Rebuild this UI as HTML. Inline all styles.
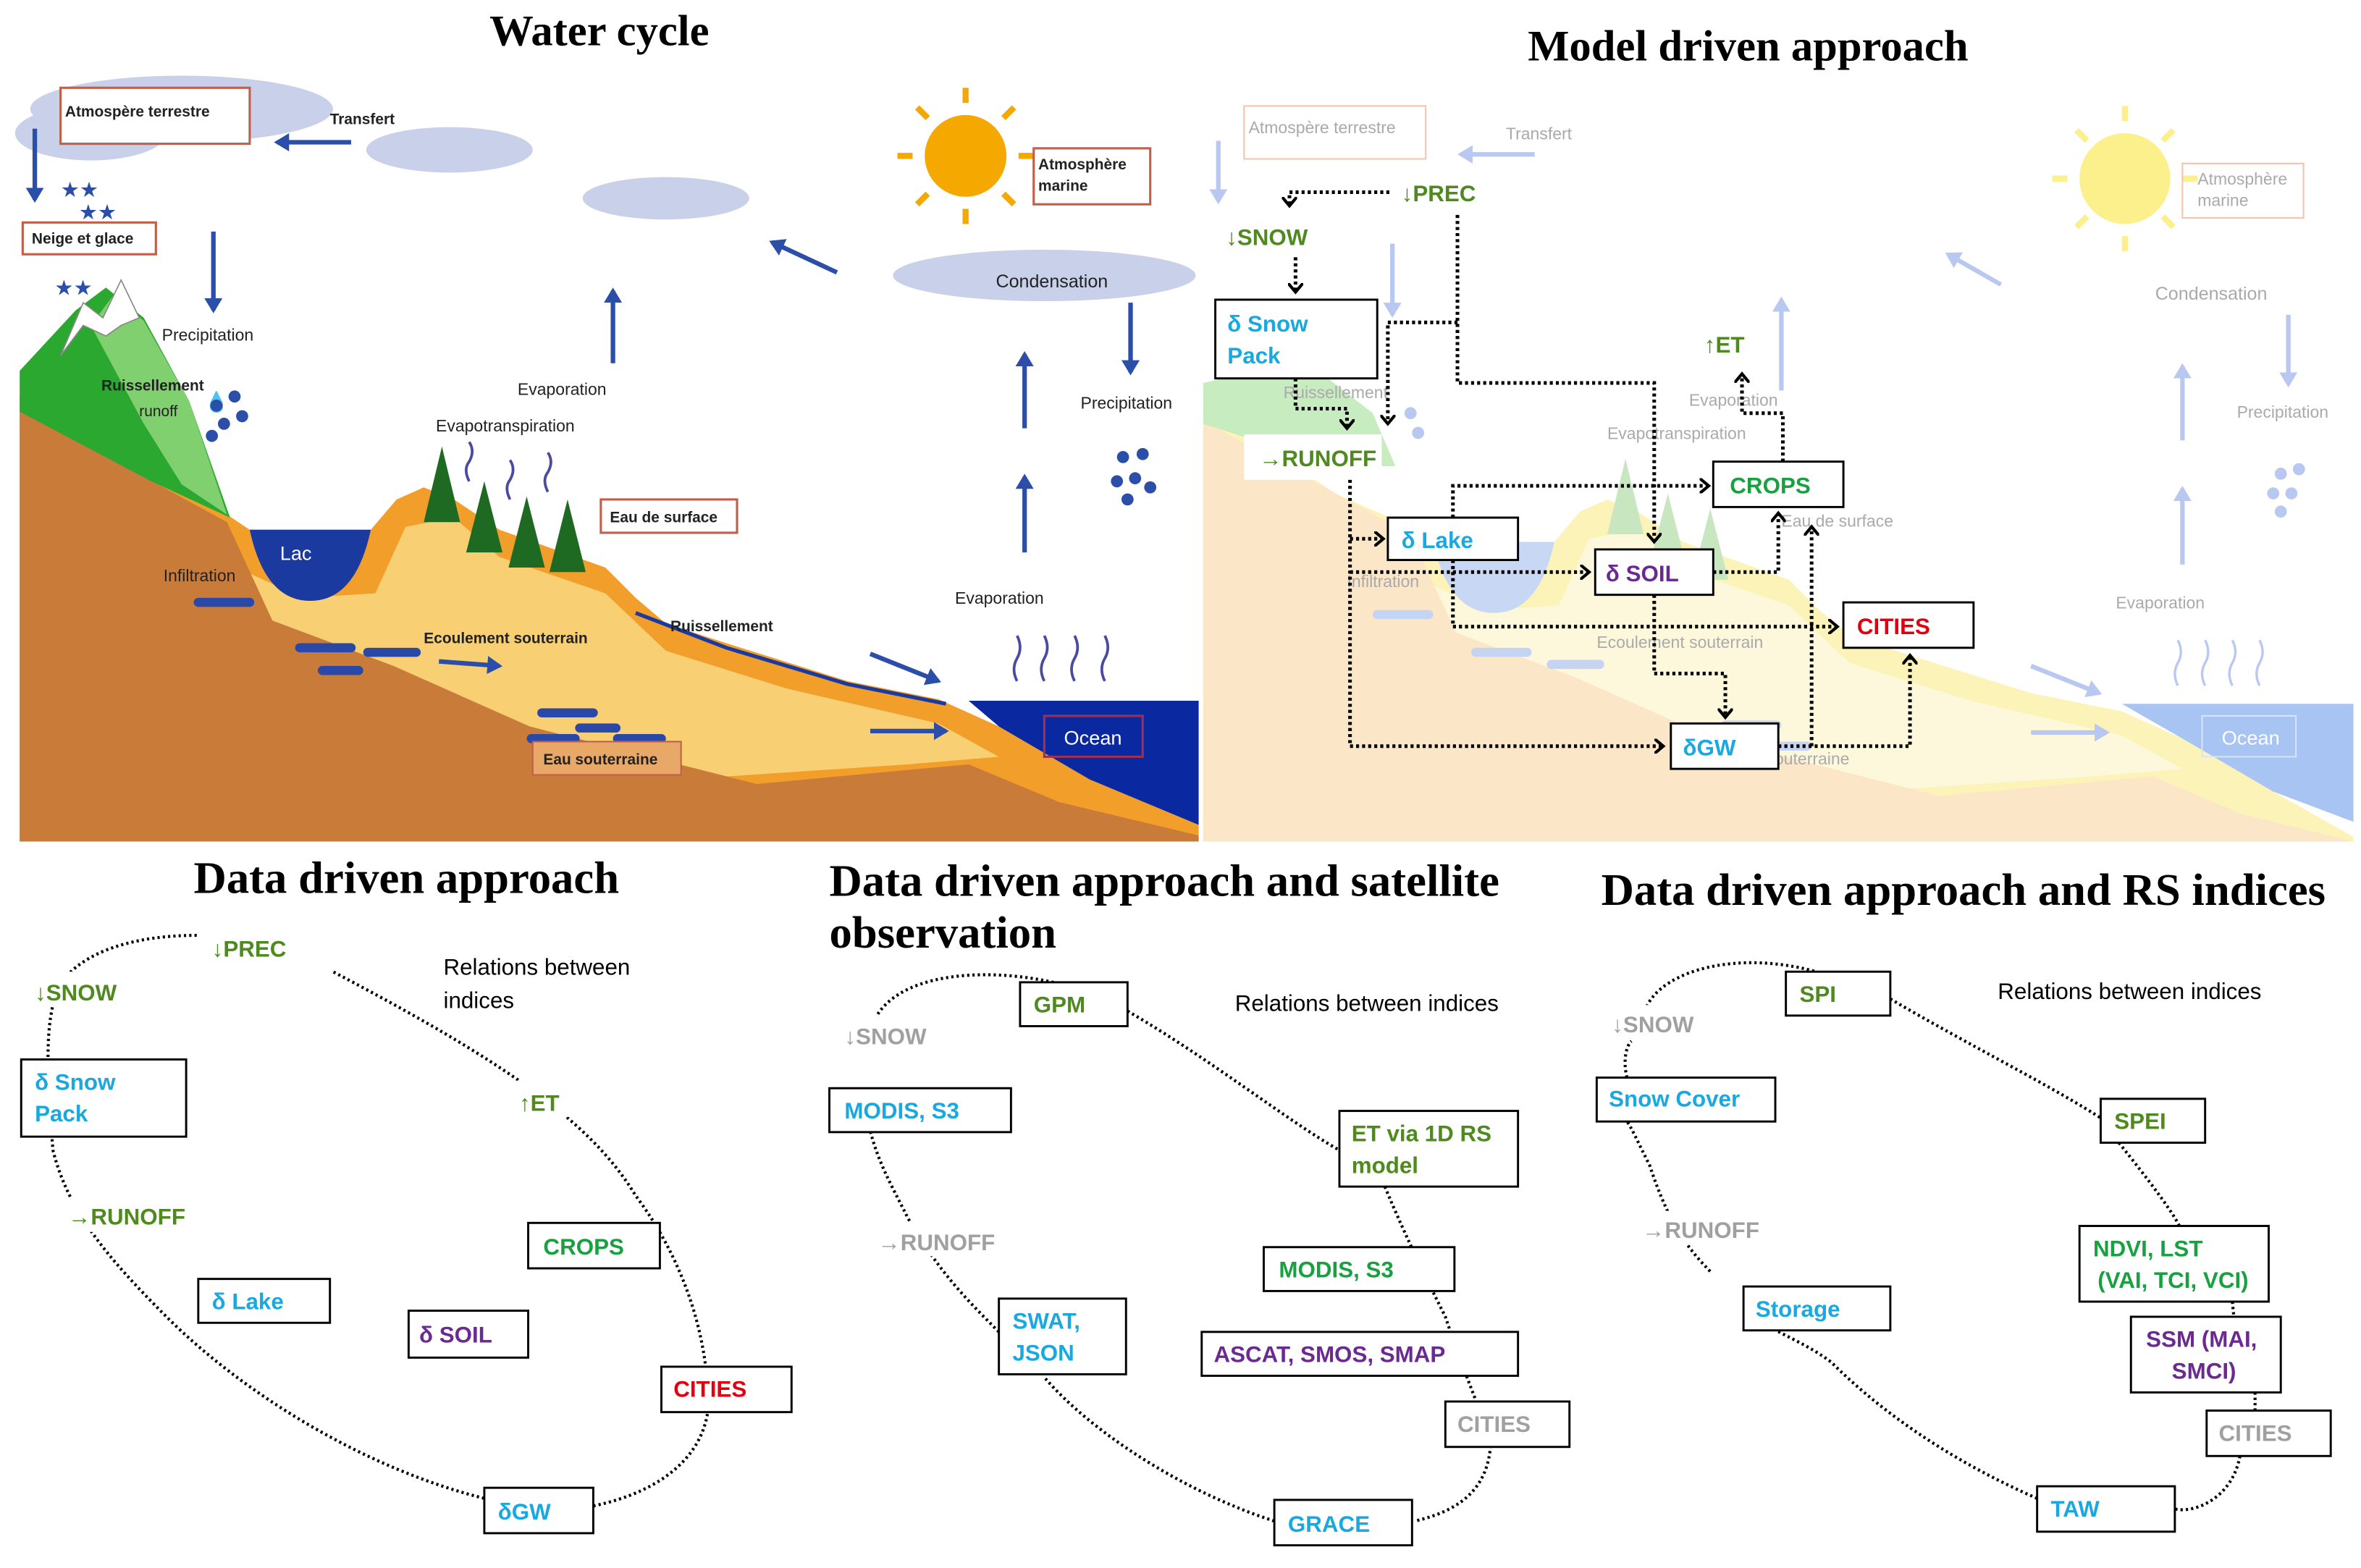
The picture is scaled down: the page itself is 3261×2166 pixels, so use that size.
<!DOCTYPE html>
<html><head><meta charset="utf-8"><style>
html,body{margin:0;padding:0;background:#fff;}
svg{display:block;}
.t{font-family:"Liberation Sans Narrow","Liberation Sans",sans-serif;font-weight:bold;font-size:15px;}
.s{font-family:"Liberation Sans Narrow","Liberation Sans",sans-serif;font-size:11px;}
.ti{font-family:"Liberation Serif",serif;font-weight:bold;font-size:30px;}
.b{fill:#fff;stroke:#000;stroke-width:1.4;}
.d{fill:none;stroke:#000;stroke-width:2.4;stroke-dasharray:2 2;}
.e{fill:none;stroke:#000;stroke-width:2;stroke-dasharray:1.5 2;}
.bl{fill:#1aa8e0}.gr{fill:#19a040}.og{fill:#4f8a1e}.pu{fill:#6a2a90}.rd{fill:#e00010}.gy{fill:#a0a0a0}
</style></head><body>
<svg width="3261" height="2166" viewBox="0 0 1560 1036" preserveAspectRatio="none" xmlns="http://www.w3.org/2000/svg">
<defs>
<marker id="a" markerWidth="8" markerHeight="10" refX="6" refY="5" orient="auto" markerUnits="userSpaceOnUse"><path d="M0,0 L6,5 L0,10" fill="none" stroke="#000" stroke-width="2"/></marker>
<marker id="ba" markerWidth="12" markerHeight="12" refX="8" refY="6" orient="auto" markerUnits="userSpaceOnUse"><path d="M0,0 L10,6 L0,12 Z" fill="#2b4ea8"/></marker>
<marker id="fa" markerWidth="12" markerHeight="12" refX="8" refY="6" orient="auto" markerUnits="userSpaceOnUse"><path d="M0,0 L10,6 L0,12 Z" fill="#b8c8f0"/></marker>
</defs>
<rect width="1560" height="1036" fill="#fff"/>

<!-- ===== WATER CYCLE ===== -->
<text x="396" y="30" text-anchor="middle" class="ti" style="font-size:29px">Water cycle</text>
<g>
<ellipse cx="120" cy="72" rx="100" ry="22" fill="#c8d0ea"/>
<ellipse cx="60" cy="88" rx="50" ry="18" fill="#c8d0ea"/>
<ellipse cx="297" cy="99" rx="55" ry="15" fill="#c8d0ea"/>
<ellipse cx="440" cy="131" rx="55" ry="14" fill="#c8d0ea"/>
<ellipse cx="690" cy="182" rx="100" ry="17" fill="#c8d0ea"/>
<!-- ground -->
<path d="M13,262 L60,290 L100,318 L150,340 L165,350 L245,350 L262,330 L280,322 L300,330 L330,350 L400,375 L420,395 L440,412 L480,425 L560,450 L620,462 L660,480 L720,515 L792,545 L792,556 L13,556 Z" fill="#f29e2a"/>
<path d="M150,372 L200,395 L248,392 L268,348 L300,342 L330,368 L400,392 L440,430 L520,455 L620,478 L660,500 L600,505 L450,515 L300,475 L200,432 L150,402 Z" fill="#f9cf74"/>
<path d="M13,270 L150,345 L180,410 L260,440 L350,480 L500,518 L640,505 L700,530 L792,552 L792,556 L13,556 Z" fill="#c97b3a"/>
<path d="M13,245 L50,205 L70,190 L95,210 L125,265 L152,342 L100,318 L13,272 Z" fill="#2aa830"/>
<path d="M60,215 L75,195 L95,212 L125,265 L150,340 L120,320 L95,280 Z" fill="#80d070"/>
<path d="M40,235 L55,200 L68,210 L80,185 L92,210 L80,215 L70,222 L55,215 Z" fill="#fff" stroke="#888" stroke-width="0.8"/>
<path d="M165,350 L245,350 Q235,397 205,397 Q175,397 165,350 Z" fill="#1a3aa0"/>
<text x="185" y="370" font-family="Liberation Sans" font-size="13" fill="#fff">Lac</text>
<path d="M640,463 L792,463 L792,545 L720,515 L660,480 Z" fill="#0a28a0"/>
<path d="M420,405 L480,428 L560,452 L625,465" fill="none" stroke="#1a3aa0" stroke-width="2.5"/>
<!-- trees -->
<g fill="#1e6a22"><path d="M292,295 L280,345 L304,345 Z"/><path d="M320,318 L308,365 L332,365 Z"/><path d="M348,328 L336,375 L360,375 Z"/><path d="M375,330 L363,378 L387,378 Z"/></g>
<!-- groundwater bars -->
<g fill="#2a48a8"><rect x="128" y="395" width="40" height="6" rx="3"/><rect x="195" y="425" width="40" height="6" rx="3"/><rect x="240" y="428" width="38" height="6" rx="3"/><rect x="210" y="440" width="30" height="6" rx="3"/><rect x="355" y="468" width="40" height="6" rx="3"/><rect x="380" y="478" width="30" height="6" rx="3"/><rect x="405" y="485" width="35" height="6" rx="3"/><rect x="348" y="485" width="35" height="6" rx="3"/></g>
<!-- sun -->
<g stroke="#f5a800" stroke-width="4"><line x1="638" y1="58" x2="638" y2="68"/><line x1="638" y1="138" x2="638" y2="148"/><line x1="593" y1="103" x2="603" y2="103"/><line x1="673" y1="103" x2="683" y2="103"/><line x1="606" y1="71" x2="613" y2="78"/><line x1="663" y1="128" x2="670" y2="135"/><line x1="670" y1="71" x2="663" y2="78"/><line x1="606" y1="135" x2="613" y2="128"/></g>
<circle cx="638" cy="103" r="27" fill="#f5a800"/>
<!-- blue arrows -->
<g stroke="#2b4ea8" stroke-width="3" marker-end="url(#ba)">
<line x1="23" y1="85" x2="23" y2="132"/><line x1="232" y1="94" x2="183" y2="94"/><line x1="141" y1="153" x2="141" y2="205"/>
<line x1="405" y1="240" x2="405" y2="192"/><line x1="553" y1="180" x2="510" y2="160"/><line x1="747" y1="200" x2="747" y2="246"/>
<line x1="677" y1="283" x2="677" y2="234"/><line x1="677" y1="365" x2="677" y2="315"/>
<line x1="575" y1="432" x2="620" y2="450"/><line x1="575" y1="483" x2="625" y2="483"/><line x1="290" y1="437" x2="330" y2="440"/>
</g>
<g fill="#2b4ea8" font-size="14" font-family="DejaVu Sans"><text x="40" y="130">★★</text><text x="52" y="145">★★</text><text x="36" y="195">★★</text></g>
<g fill="#2b4ea8" font-size="13" font-family="DejaVu Sans"><text x="135" y="270">💧</text></g>
<g fill="#2b4ea8"><circle cx="143" cy="268" r="4"/><circle cx="155" cy="262" r="4"/><circle cx="148" cy="280" r="4"/><circle cx="160" cy="275" r="4"/><circle cx="140" cy="288" r="4"/><circle cx="742" cy="302" r="4"/><circle cx="755" cy="300" r="4"/><circle cx="738" cy="318" r="4"/><circle cx="750" cy="316" r="4"/><circle cx="760" cy="322" r="4"/><circle cx="745" cy="330" r="4"/></g>
<g fill="none" stroke="#4a4aa0" stroke-width="1.8"><path d="M672,450 q-4,-8 0,-15 q4,-7 0,-15"/><path d="M690,450 q-4,-8 0,-15 q4,-7 0,-15"/><path d="M710,450 q-4,-8 0,-15 q4,-7 0,-15"/><path d="M730,450 q-4,-8 0,-15 q4,-7 0,-15"/><path d="M310,318 q-4,-8 0,-13 q4,-7 0,-13"/><path d="M337,330 q-4,-8 0,-13 q4,-7 0,-13"/><path d="M362,325 q-4,-8 0,-13 q4,-7 0,-13"/></g>
<!-- labels -->
<g class="s" fill="#222">
<rect x="40" y="58" width="125" height="37" fill="#fff" stroke="#c0604a" stroke-width="1.5"/><text x="43" y="77" font-weight="bold" font-size="10">Atmospère terrestre</text>
<rect x="15" y="147" width="88" height="21" fill="#fff" stroke="#c0604a" stroke-width="1.5"/><text x="21" y="161" font-weight="bold" font-size="10">Neige et glace</text>
<rect x="683" y="98" width="77" height="37" fill="#fff" stroke="#c0604a" stroke-width="1.5"/><text x="686" y="112" font-weight="bold" font-size="10">Atmosphère</text><text x="686" y="126" font-weight="bold" font-size="10">marine</text>
<rect x="397" y="330" width="90" height="22" fill="#fff" stroke="#c0604a" stroke-width="1.5"/><text x="403" y="345" font-weight="bold" font-size="10">Eau de surface</text>
<rect x="352" y="490" width="98" height="22" fill="#e8a868" stroke="#c0604a" stroke-width="1"/><text x="359" y="505" font-weight="bold" font-size="10">Eau souterraine</text>
<rect x="690" y="473" width="65" height="27" fill="none" stroke="#a03050" stroke-width="1.5"/><text x="703" y="492" fill="#fff" font-size="13">Ocean</text>
<text x="218" y="82" font-weight="bold" font-size="10">Transfert</text>
<text x="107" y="225">Precipitation</text>
<text x="342" y="261">Evaporation</text>
<text x="288" y="285">Evapotranspiration</text>
<text x="658" y="190" font-size="12">Condensation</text>
<text x="714" y="270">Precipitation</text>
<text x="631" y="399">Evaporation</text>
<text x="67" y="258" font-weight="bold" font-size="10">Ruissellement</text>
<text x="92" y="275" font-size="10">runoff</text>
<text x="108" y="384">Infiltration</text>
<text x="280" y="425" font-weight="bold" font-size="10">Ecoulement souterrain</text>
<text x="443" y="417" font-weight="bold" font-size="10">Ruissellement</text>
</g>
</g>

<!-- ===== MODEL DRIVEN ===== -->
<text x="1155" y="40" text-anchor="middle" class="ti" style="font-size:29px">Model driven approach</text>
<g transform="translate(782,8)">
<path d="M13,262 L60,290 L100,318 L150,340 L165,350 L245,350 L262,330 L280,322 L300,330 L330,350 L400,375 L420,395 L440,412 L480,425 L560,450 L620,462 L660,480 L720,515 L773,545 L773,548 L13,548 Z" fill="#fcf3b8"/>
<path d="M150,372 L200,395 L248,392 L268,348 L300,342 L330,368 L400,392 L440,430 L520,455 L620,478 L660,500 L600,505 L450,515 L300,475 L200,432 L150,402 Z" fill="#fdf8dc"/>
<path d="M13,270 L150,345 L180,410 L260,440 L350,480 L500,518 L640,505 L700,530 L773,548 L13,548 Z" fill="#fbe6c8"/>
<path d="M13,245 L80,230 L125,265 L140,300 L100,300 L13,272 Z" fill="#c6ecc0"/>
<path d="M165,350 L245,350 Q235,397 205,397 Q175,397 165,350 Z" fill="#c8d8f4"/>
<path d="M620,457 L773,457 L773,535 L720,515 L660,480 Z" fill="#a8c4f2"/>
<g fill="#c8e6c0"><path d="M292,295 L280,345 L304,345 Z"/><path d="M320,318 L308,365 L332,365 Z"/><path d="M348,328 L336,375 L360,375 Z"/></g>
<g fill="#c6d4f4"><rect x="190" y="420" width="40" height="6" rx="3"/><rect x="240" y="428" width="38" height="6" rx="3"/><rect x="355" y="468" width="40" height="6" rx="3"/><rect x="380" y="482" width="35" height="6" rx="3"/><rect x="125" y="395" width="40" height="6" rx="3"/></g>
<circle cx="622" cy="110" r="30" fill="#fbf08c"/>
<g stroke="#fbf08c" stroke-width="4"><line x1="622" y1="62" x2="622" y2="72"/><line x1="622" y1="148" x2="622" y2="158"/><line x1="574" y1="110" x2="584" y2="110"/><line x1="660" y1="110" x2="670" y2="110"/><line x1="590" y1="78" x2="597" y2="85"/><line x1="647" y1="135" x2="654" y2="142"/><line x1="654" y1="78" x2="647" y2="85"/><line x1="590" y1="142" x2="597" y2="135"/></g>
<g stroke="#b8c8f0" stroke-width="3" marker-end="url(#fa)">
<line x1="23" y1="85" x2="23" y2="125"/><line x1="232" y1="94" x2="183" y2="94"/><line x1="138" y1="153" x2="138" y2="200"/>
<line x1="395" y1="250" x2="395" y2="190"/><line x1="540" y1="180" x2="505" y2="160"/><line x1="730" y1="200" x2="730" y2="246"/>
<line x1="660" y1="283" x2="660" y2="234"/><line x1="660" y1="365" x2="660" y2="315"/>
<line x1="560" y1="432" x2="605" y2="450"/><line x1="560" y1="476" x2="610" y2="476"/>
</g>
<g fill="#b8c8f0"><circle cx="725" cy="305" r="4"/><circle cx="737" cy="302" r="4"/><circle cx="720" cy="318" r="4"/><circle cx="732" cy="318" r="4"/><circle cx="725" cy="330" r="4"/><circle cx="150" cy="265" r="4"/><circle cx="155" cy="278" r="4"/></g>
<g fill="none" stroke="#b8c8f0" stroke-width="1.6"><path d="M657,445 q-4,-8 0,-15 q4,-7 0,-15"/><path d="M675,445 q-4,-8 0,-15 q4,-7 0,-15"/><path d="M693,445 q-4,-8 0,-15 q4,-7 0,-15"/><path d="M711,445 q-4,-8 0,-15 q4,-7 0,-15"/></g>
<g class="s" fill="#aaa" font-size="10.5">
<rect x="40" y="62" width="120" height="35" fill="none" stroke="#f4c4b0"/><text x="43" y="80">Atmospère terrestre</text>
<text x="213" y="84">Transfert</text>
<rect x="660" y="100" width="80" height="36" fill="none" stroke="#f4c4b0"/><text x="670" y="114">Atmosphère</text><text x="670" y="128">marine</text>
<text x="642" y="190" font-size="12">Condensation</text>
<text x="696" y="268">Precipitation</text>
<text x="616" y="394">Evaporation</text>
<text x="280" y="282">Evapotranspiration</text>
<text x="334" y="260">Evaporation</text>
<text x="66" y="255">Ruissellement</text>
<text x="108" y="380">Infiltration</text>
<text x="273" y="420">Ecoulement souterrain</text>
<text x="395" y="340">Eau de surface</text>
<text x="385" y="497">souterraine</text>
<rect x="673" y="465" width="62" height="27" fill="none" stroke="#d8e4fb"/><text x="686" y="484" fill="#fff" font-size="13">Ocean</text>
</g>
</g>
<!-- connectors -->
<g class="d">
<path d="M918,127 L852,127 L852,136" marker-end="url(#a)"/>
<path d="M856,170 L856,193" marker-end="url(#a)"/>
<path d="M963,142 L963,253 L1093,253 L1093,358" marker-end="url(#a)"/>
<path d="M963,213 L917,213 L917,280" marker-end="url(#a)"/>
<path d="M856,250 L856,270 L890,270 L890,283" marker-end="url(#a)"/>
<path d="M892,317 L892,493 L1099,493" marker-end="url(#a)"/>
<path d="M892,356 L914,356" marker-end="url(#a)"/>
<path d="M892,378 L1050,378" marker-end="url(#a)"/>
<path d="M960,342 L960,321 L1129,321" marker-end="url(#a)"/>
<path d="M960,370 L960,414 L1214,414" marker-end="url(#a)"/>
<path d="M1132,378 L1175,378 L1175,339" marker-end="url(#a)"/>
<path d="M1093,393 L1093,445 L1140,445 L1140,474" marker-end="url(#a)"/>
<path d="M1178,305 L1178,273 L1151,273 L1151,247" marker-end="url(#a)"/>
<path d="M1175,493 L1262,493 L1262,433" marker-end="url(#a)"/>
<path d="M1197,493 L1197,348" marker-end="url(#a)"/>
</g>
<g class="t">
<text x="926" y="133" class="og">↓PREC</text>
<text x="810" y="162" class="og">↓SNOW</text>
<rect x="803" y="198" width="107" height="52" class="b"/><text x="811" y="219" class="bl">δ Snow</text><text x="811" y="240" class="bl">Pack</text>
<rect x="822" y="287" width="91" height="30" fill="#fff"/><text x="832" y="308" class="og">→RUNOFF</text>
<text x="1126" y="233" class="og">↑ET</text>
<rect x="1132" y="305" width="86" height="30" class="b"/><text x="1143" y="326" class="gr">CROPS</text>
<rect x="917" y="342" width="86" height="28" class="b"/><text x="926" y="362" class="bl">δ Lake</text>
<rect x="1054" y="363" width="78" height="30" class="b"/><text x="1061" y="384" class="pu">δ SOIL</text>
<rect x="1218" y="398" width="86" height="30" class="b"/><text x="1227" y="419" class="rd">CITIES</text>
<rect x="1104" y="478" width="71" height="30" class="b"/><text x="1112" y="499" class="bl">δGW</text>
</g>

<!-- ===== DATA DRIVEN ===== -->
<text x="128" y="590" class="ti">Data driven approach</text>
<path class="e" d="M130,618 C90,618 55,628 40,650 C30,670 30,700 35,760 C45,800 70,830 110,870 C160,920 240,970 320,990 M392,995 C440,985 465,960 468,930 C468,880 450,830 420,790 C390,740 330,700 220,642"/>
<g class="t">
<rect x="136" y="612" width="62" height="22" fill="#fff"/><text x="140" y="632" class="og">↓PREC</text>
<rect x="20" y="642" width="70" height="22" fill="#fff"/><text x="23" y="661" class="og">↓SNOW</text>
<rect x="14" y="700" width="109" height="51" class="b"/><text x="23" y="720" class="bl">δ Snow</text><text x="23" y="741" class="bl">Pack</text>
<rect x="338" y="714" width="40" height="24" fill="#fff"/><text x="343" y="734" class="og">↑ET</text>
<rect x="42" y="792" width="90" height="22" fill="#fff"/><text x="45" y="809" class="og">→RUNOFF</text>
<rect x="349" y="808" width="87" height="30" class="b"/><text x="359" y="829" class="gr">CROPS</text>
<rect x="131" y="845" width="87" height="29" class="b"/><text x="140" y="865" class="bl">δ Lake</text>
<rect x="270" y="866" width="79" height="31" class="b"/><text x="277" y="887" class="pu">δ SOIL</text>
<rect x="437" y="903" width="86" height="30" class="b"/><text x="445" y="923" class="rd">CITIES</text>
<rect x="320" y="983" width="72" height="30" class="b"/><text x="329" y="1004" class="bl">δGW</text>
</g>
<text x="293" y="644" class="s" style="font-size:15px">Relations between</text>
<text x="293" y="666" class="s" style="font-size:15px">indices</text>

<text x="548" y="592" class="ti">Data driven approach and satellite</text>
<text x="548" y="626" class="ti">observation</text>
<path class="e" d="M580,670 C600,640 660,640 700,650 M745,668 C800,700 850,740 885,760 M915,784 C930,820 945,850 955,870 C965,900 975,925 985,950 C985,990 955,1000 935,1005 M842,1005 C780,985 720,945 690,910 M660,880 C640,860 620,840 600,805 C585,775 575,760 570,720"/>
<g class="t">
<rect x="556" y="672" width="65" height="22" fill="#fff"/><text x="558" y="690" class="gy">↓SNOW</text>
<rect x="674" y="649" width="71" height="29" class="b"/><text x="683" y="669" class="og">GPM</text>
<rect x="548" y="719" width="120" height="29" class="b"/><text x="558" y="739" class="bl">MODIS, S3</text>
<rect x="885" y="734" width="118" height="50" class="b"/><text x="893" y="754" class="og">ET via 1D RS</text><text x="893" y="775" class="og">model</text>
<rect x="577" y="808" width="90" height="22" fill="#fff"/><text x="580" y="826" class="gy">→RUNOFF</text>
<rect x="835" y="824" width="126" height="29" class="b"/><text x="845" y="844" class="gr">MODIS, S3</text>
<rect x="660" y="858" width="84" height="50" class="b"/><text x="669" y="878" class="bl">SWAT,</text><text x="669" y="899" class="bl">JSON</text>
<rect x="794" y="880" width="209" height="29" class="b"/><text x="802" y="900" class="pu">ASCAT, SMOS, SMAP</text>
<rect x="955" y="926" width="82" height="30" class="b"/><text x="963" y="946" class="gy">CITIES</text>
<rect x="842" y="991" width="91" height="30" class="b"/><text x="851" y="1012" class="bl">GRACE</text>
</g>
<text x="816" y="668" class="s" style="font-size:15px">Relations between indices</text>

<text x="1058" y="598" class="ti">Data driven approach and RS indices</text>
<path class="e" d="M1088,665 C1100,640 1150,628 1200,642 M1249,660 C1300,690 1360,720 1390,740 M1400,755 C1420,780 1435,800 1440,810 M1475,860 L1476,870 M1490,920 L1490,932 M1480,962 C1475,990 1450,1000 1437,997 M1346,990 C1300,970 1250,940 1210,900 C1190,885 1170,880 1152,865 M1130,840 C1110,820 1100,800 1090,770 C1080,750 1078,745 1075,741 M1075,712 C1072,700 1075,690 1078,688"/>
<g class="t">
<rect x="1062" y="664" width="65" height="22" fill="#fff"/><text x="1065" y="682" class="gy">↓SNOW</text>
<rect x="1180" y="642" width="69" height="29" class="b"/><text x="1189" y="662" class="og">SPI</text>
<rect x="1055" y="712" width="118" height="29" class="b"/><text x="1063" y="731" class="bl">Snow Cover</text>
<rect x="1388" y="726" width="69" height="29" class="b"/><text x="1397" y="746" class="og">SPEI</text>
<rect x="1083" y="800" width="90" height="22" fill="#fff"/><text x="1085" y="818" class="gy">→RUNOFF</text>
<rect x="1374" y="810" width="125" height="50" class="b"/><text x="1383" y="830" class="gr">NDVI, LST</text><text x="1386" y="851" class="gr">(VAI, TCI, VCI)</text>
<rect x="1152" y="850" width="97" height="29" class="b"/><text x="1160" y="870" class="bl">Storage</text>
<rect x="1408" y="870" width="99" height="50" class="b"/><text x="1418" y="890" class="pu">SSM (MAI,</text><text x="1435" y="911" class="pu">SMCI)</text>
<rect x="1458" y="932" width="82" height="30" class="b"/><text x="1466" y="952" class="gy">CITIES</text>
<rect x="1346" y="982" width="91" height="30" class="b"/><text x="1355" y="1002" class="bl">TAW</text>
</g>
<text x="1320" y="660" class="s" style="font-size:15px">Relations between indices</text>
</svg>
</body></html>
